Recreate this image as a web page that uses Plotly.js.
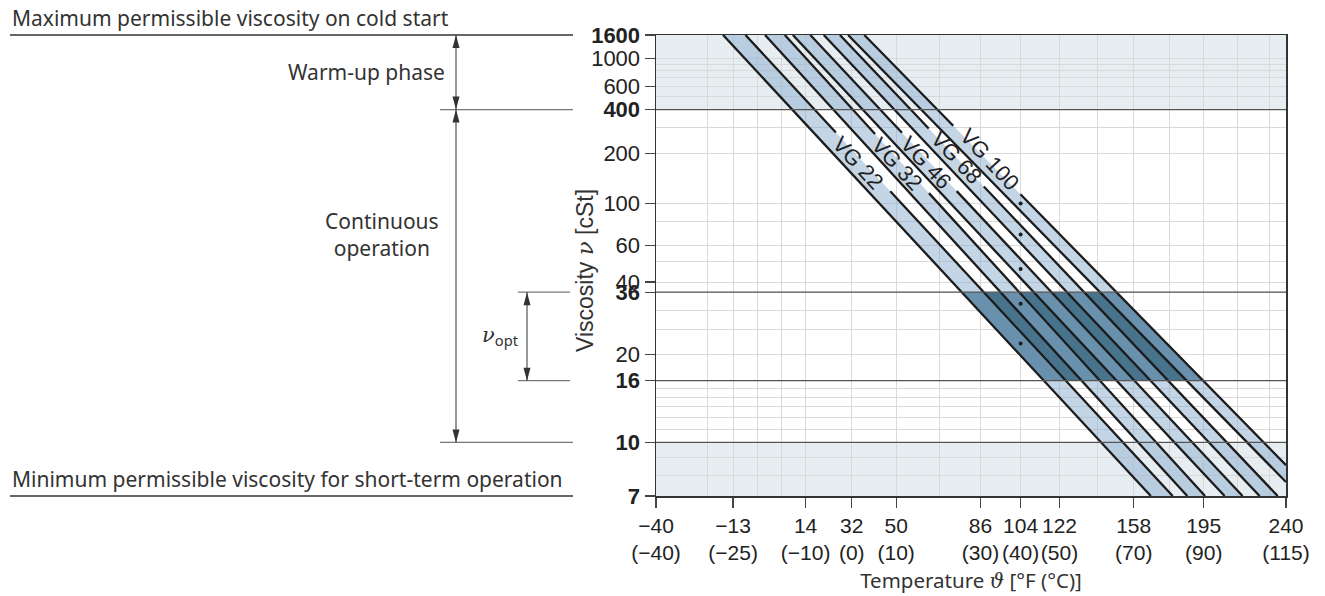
<!DOCTYPE html>
<html>
<head>
<meta charset="utf-8">
<script src="https://cdn.plot.ly/plotly-3.0.1.min.js"></script>
<style>
html,body{margin:0;padding:0;background:#fff;}
#chart{width:1325px;height:596px;}
</style>
</head>
<body>
<div id="chart"></div>
<script>
// ---------------- data ----------------
const yTickValues = [7, 10, 16, 20, 36, 40, 60, 100, 200, 400, 600, 1000, 1600];
const yTickLabels = ['<b>7</b>', '<b>10</b>', '<b>16</b>', '20', '<b>36</b>', '40', '60', '100', '200', '<b>400</b>', '600', '1000', '<b>1600</b>'];
const yMinorGrid = [8, 9, 11, 12, 13, 14, 15, 25, 30, 50, 80, 300, 500, 700, 800, 900];
const yMajorLines = [400, 36, 16, 10];

const xTickC = [-40, -25, -10, 0, 10, 30, 40, 50, 70, 90, 115];
const xTickF = ['−40', '−13', '14', '32', '50', '86', '104', '122', '158', '195', '240'];
const xTickCLabel = ['(−40)', '(−25)', '(−10)', '(0)', '(10)', '(30)', '(40)', '(50)', '(70)', '(90)', '(115)'];
const xUnlabelledTickC = [20];
const xMinorGridC = [-30, -20, -15, 20, 60, 80, 100, 110];

const grades = ['VG 22', 'VG 32', 'VG 46', 'VG 68', 'VG 100'];
// lower limit line of each grade: start (°C, cSt) -> end (°C, cSt)
const lowerStartT = [-27.0, -18.5, -12.7, -6.1, -0.8];
const lowerStartV = [1600, 1600, 1600, 1600, 1600];
const lowerEndT = [74.8, 85.2, 96.2, 106.8, 115];
const lowerEndV = [7, 7, 7, 7, 7.65];
// upper limit line of each grade
const upperStartT = [-22.5, -14.4, -9.0, -2.6, 2.8];
const upperStartV = [1600, 1600, 1600, 1600, 1600];
const upperEndT = [81.0, 90.4, 101.6, 112.4, 115];
const upperEndV = [7, 7, 7, 7, 8.55];
// nominal viscosity at 40 °C (dots)
const nominalT = [40, 40, 40, 40, 40];
const nominalV = [22, 32, 46, 68, 100];
// label anchor points
const labelT = [1.3, 10.1, 16.9, 24.1, 32.2];
const labelV = [175.6, 173.1, 175.6, 187.5, 182.1];
// optimum operating viscosity range (dark area)
const optimumT = [25.4, 65.3, 89.9, 45.9];
const optimumV = [36, 36, 16, 16];
// permissible zones (tinted)
const coldStartZone = [400, 1600];
const shortTermZone = [7, 10];

// ---------------- scales ----------------
const wal = v => Math.log10(Math.log10(v + 0.7));   // Ubbelohde–Walther viscosity scale
const K = c => c + 273.15;                           // absolute temperature (log axis)
const W = 1325, H = 596, M = {l: 656, r: 39, t: 35, b: 100};
const PW = W - M.l - M.r, PH = H - M.t - M.b;
const Y0 = wal(7), Y1 = wal(1600);
const xp = px => (px - M.l) / PW;
const yp = v => (wal(v) - Y0) / (Y1 - Y0);
const ypx = py => (M.t + PH - py) / PH;

const LINE = '#1c1c1c';
const SANS = 'Liberation Sans, Arial, sans-serif';
// upper limit lines are interrupted where the grade label sits
const upperDash = ['133px,80px,3000px', '134px,80px,3000px', '134px,80px,3000px', '129px,80px,3000px', '127px,96px,3000px'];

const traces = [];
traces.push({
  type: 'scatter', mode: 'lines', x: optimumT.map(K), y: optimumV.map(wal),
  fill: 'toself', fillcolor: '#48738d', line: {width: 0}, hoverinfo: 'skip'
});
grades.forEach((g, i) => {
  traces.push({
    type: 'scatter', mode: 'lines',
    x: [K(lowerStartT[i]), K(lowerEndT[i]), K(upperEndT[i]), K(upperStartT[i])],
    y: [wal(lowerStartV[i]), wal(lowerEndV[i]), wal(upperEndV[i]), wal(upperStartV[i])],
    fill: 'toself', fillcolor: 'rgba(137,173,205,0.5)', line: {width: 0}, hoverinfo: 'skip'
  });
});
grades.forEach((g, i) => {
  traces.push({
    type: 'scatter', mode: 'lines', name: g + ' min',
    x: [K(lowerStartT[i]), K(lowerEndT[i])], y: [wal(lowerStartV[i]), wal(lowerEndV[i])],
    line: {color: LINE, width: 2.3}, hoverinfo: 'skip'
  });
  traces.push({
    type: 'scatter', mode: 'lines', name: g + ' max',
    x: [K(upperStartT[i]), K(upperEndT[i])], y: [wal(upperStartV[i]), wal(upperEndV[i])],
    line: {color: LINE, width: 2.3, dash: upperDash[i]}, hoverinfo: 'skip'
  });
});
traces.push({
  type: 'scatter', mode: 'markers', x: nominalT.map(K), y: nominalV.map(wal),
  marker: {size: 4, color: LINE}, hoverinfo: 'skip'
});

const shapes = [];
[coldStartZone, shortTermZone].forEach(z => {
  shapes.push({type: 'rect', xref: 'paper', x0: 0, x1: 1, yref: 'y', y0: wal(z[0]), y1: wal(z[1]),
    fillcolor: '#e7eef2', line: {width: 0}, layer: 'below'});
});
yMajorLines.forEach(v => {
  shapes.push({type: 'line', xref: 'paper', x0: 0, x1: 1, yref: 'y', y0: wal(v), y1: wal(v),
    line: {color: '#555', width: 1.2}, layer: 'above'});
});
// tick mark without label
xUnlabelledTickC.forEach(c => {
  shapes.push({type: 'line', xref: 'x', x0: Math.log10(K(c)), x1: Math.log10(K(c)), yref: 'paper', y0: 0, y1: -10 / PH,
    line: {color: '#444', width: 1.2}});
});
// left-hand guide lines
const guide = (v, a, b, col, w) => shapes.push({type: 'line', xref: 'paper', yref: 'paper',
  x0: xp(a), x1: xp(b), y0: yp(v), y1: yp(v), line: {color: col, width: w}});
guide(1600, 10, 573, '#333', 1.3);
guide(400, 440, 573, '#777', 1.1);
guide(36, 518, 570, '#777', 1.1);
guide(16, 518, 570, '#777', 1.1);
guide(10, 440, 573, '#777', 1.1);
guide(7, 10, 573, '#333', 1.3);
// double-headed dimension arrows
const dimArrow = (px, vTop, vBottom) => {
  shapes.push({type: 'line', xref: 'paper', yref: 'paper', x0: xp(px), x1: xp(px), y0: yp(vTop), y1: yp(vBottom),
    line: {color: '#333', width: 1}});
  shapes.push({type: 'path', xref: 'paper', yref: 'paper', xsizemode: 'pixel', ysizemode: 'pixel',
    xanchor: xp(px), yanchor: yp(vTop), path: 'M0,0 L-3.5,-13 L3.5,-13 Z',
    fillcolor: '#333', line: {width: 0}});
  shapes.push({type: 'path', xref: 'paper', yref: 'paper', xsizemode: 'pixel', ysizemode: 'pixel',
    xanchor: xp(px), yanchor: yp(vBottom), path: 'M0,0 L-3.5,13 L3.5,13 Z',
    fillcolor: '#333', line: {width: 0}});
};
dimArrow(456, 1600, 400);
dimArrow(456, 400, 10);
dimArrow(527, 36, 16);

const TXT = {family: 'Noto Sans, Open Sans, sans-serif', size: 21, color: '#333'};
const annotations = [];
annotations.push({xref: 'paper', yref: 'paper', x: xp(10), y: yp(1600), xanchor: 'left', yanchor: 'bottom', yshift: 1,
  text: 'Maximum permissible viscosity on cold start', showarrow: false, font: TXT});
annotations.push({xref: 'paper', yref: 'paper', x: xp(447), y: ypx(72), xanchor: 'right', yanchor: 'middle',
  text: 'Warm-up phase', showarrow: false, font: TXT});
annotations.push({xref: 'paper', yref: 'paper', x: xp(382), y: ypx(235), xanchor: 'center', yanchor: 'middle',
  text: 'Continuous<br>operation', showarrow: false, font: TXT, align: 'center'});
annotations.push({xref: 'paper', yref: 'paper', x: xp(500), y: ypx(336), xanchor: 'center', yanchor: 'middle',
  text: '<span style="font-family:DejaVu Serif"><i>ν</i></span><sub>opt</sub>', showarrow: false,
  font: {family: TXT.family, size: 21, color: '#333'}});
annotations.push({xref: 'paper', yref: 'paper', x: xp(10), y: yp(7), xanchor: 'left', yanchor: 'bottom', yshift: 1,
  text: 'Minimum permissible viscosity for short-term operation', showarrow: false, font: TXT});
annotations.push({xref: 'paper', yref: 'paper', x: xp(585), y: ypx(271), xanchor: 'center', yanchor: 'middle',
  text: 'Viscosity <span style="font-family:DejaVu Serif"><i>ν</i></span> [cSt]', textangle: -90, showarrow: false,
  font: {family: SANS, size: 23, color: '#333'}});
grades.forEach((g, i) => {
  annotations.push({xref: 'x', yref: 'y', x: Math.log10(K(labelT[i])), y: wal(labelV[i]),
    text: g, textangle: 47, showarrow: false,
    font: {family: SANS, size: 22, color: '#222'}});
});

const layout = {
  width: W, height: H, margin: M, showlegend: false, hovermode: false,
  paper_bgcolor: '#fff', plot_bgcolor: '#fff',
  font: {family: SANS, size: 22, color: '#222'},
  xaxis: {
    type: 'log', range: [Math.log10(K(-40)), Math.log10(K(115))],
    tickmode: 'array', tickvals: xTickC.map(K), tickangle: 0,
    ticktext: xTickF.map((f, i) => f + '<br>' + xTickCLabel[i]),
    ticks: 'outside', ticklen: 10, tickwidth: 1.2, tickcolor: '#444',
    showgrid: true, gridcolor: '#d9d9d9', gridwidth: 1,
    minor: {tickmode: 'array', tickvals: xMinorGridC.map(K), showgrid: true, gridcolor: '#d9d9d9', gridwidth: 1, ticks: '', ticklen: 0},
    showline: true, linecolor: '#333', linewidth: 1.5, mirror: true, zeroline: false,
    tickfont: {family: SANS, size: 21, color: '#222'},
    title: {text: 'Temperature <span style="font-family:DejaVu Serif"><i>ϑ</i></span> [°F (°C)]',
      font: {family: TXT.family, size: 20.5, color: '#333'}, standoff: 10}
  },
  yaxis: {
    type: 'linear', range: [Y0, Y1],
    tickmode: 'array', tickvals: yTickValues.map(wal), ticktext: yTickLabels,
    ticks: 'outside', ticklen: 10, tickwidth: 1.2, tickcolor: '#444',
    showgrid: true, gridcolor: '#d9d9d9', gridwidth: 1,
    minor: {tickmode: 'array', tickvals: yMinorGrid.map(wal), showgrid: true, gridcolor: '#d9d9d9', gridwidth: 1, ticks: '', ticklen: 0},
    showline: true, linecolor: '#333', linewidth: 1.5, mirror: true, zeroline: false,
    tickfont: {family: SANS, size: 22, color: '#222'}
  },
  shapes: shapes,
  annotations: annotations
};

Plotly.newPlot('chart', traces, layout, {displayModeBar: false, staticPlot: true});
</script>
</body>
</html>
